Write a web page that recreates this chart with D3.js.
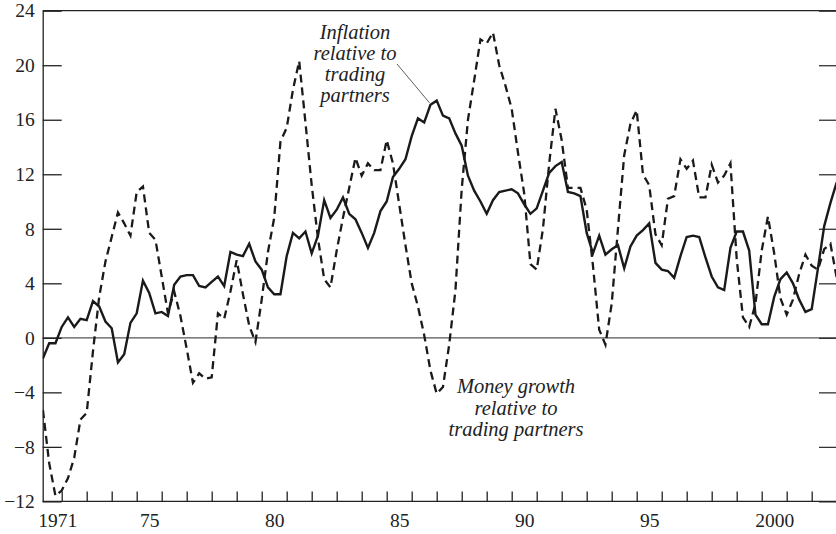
<!DOCTYPE html>
<html>
<head>
<meta charset="utf-8">
<script src="https://cdn.jsdelivr.net/npm/d3@7"></script>
<style>
  body { margin: 0; background: #fff; }
  svg text { font-family: "Liberation Serif", "DejaVu Serif", serif; fill: #222; }
  .note { font-style: italic; font-size: 20.5px; }
</style>
</head>
<body>
<svg id="chart" width="836" height="534"></svg>
<script>
"use strict";

// quarterly, 1971Q1 .. 2002Q4
var START_YEAR = 1971.25;
var inflation = [
  -1.5, -0.4, -0.4, 0.8, 1.5, 0.8, 1.4, 1.3, 2.7, 2.3, 1.2, 0.7, -1.8, -1.2, 1.1, 1.8,
  4.2, 3.3, 1.8, 1.9, 1.6, 3.9, 4.5, 4.6, 4.6, 3.8, 3.7, 4.1, 4.5, 3.8, 6.3, 6.1,
  6.0, 6.9, 5.6, 5.0, 3.7, 3.2, 3.2, 6.0, 7.7, 7.3, 7.8, 6.2, 7.5, 10.1, 8.8, 9.4,
  10.3, 9.1, 8.7, 7.7, 6.6, 7.7, 9.3, 10.0, 11.8, 12.4, 13.1, 14.8, 16.1, 15.8, 17.1, 17.4,
  16.3, 16.1, 15.0, 14.1, 11.9, 10.8, 10.0, 9.1, 10.1, 10.7, 10.8, 10.9, 10.6, 9.8, 9.1, 9.5,
  10.8, 12.1, 12.6, 12.9, 10.7, 10.6, 10.4, 7.7, 6.2, 7.5, 6.1, 6.5, 6.8, 5.1, 6.7, 7.5,
  7.9, 8.4, 5.5, 5.0, 4.9, 4.4, 6.0, 7.4, 7.5, 7.4, 5.9, 4.5, 3.7, 3.5, 6.6, 7.8,
  7.8, 6.4, 1.7, 1.0, 1.0, 3.0, 4.3, 4.8, 4.0, 2.8, 1.9, 2.1, 5.1, 8.2, 9.9, 11.4
];
var moneyGrowth = [
  -5.3, -9.2, -11.6, -11.2, -10.3, -8.8, -6.0, -5.5, -1.0, 3.0, 5.6, 7.4, 9.2, 8.4, 7.5, 10.7,
  11.1, 7.7, 7.2, 4.5, 1.8, 3.4, 1.6, -0.8, -3.3, -2.6, -3.0, -2.9, 1.8, 1.4, 3.4, 5.7,
  3.2, 0.9, -0.3, 2.8, 6.3, 8.8, 14.4, 15.4, 18.2, 20.3, 15.8, 11.2, 7.3, 4.3, 3.7, 6.4,
  8.8, 11.0, 13.2, 11.9, 12.8, 12.3, 12.3, 14.5, 12.8, 9.8, 6.8, 4.0, 2.3, 0.2, -2.4, -4.1,
  -3.6, -0.5, 3.5, 10.9, 16.0, 18.9, 21.9, 21.6, 22.4, 20.0, 18.5, 16.8, 13.6, 10.6, 5.4, 5.0,
  8.0, 12.8, 16.8, 14.5, 11.0, 11.0, 11.0, 9.4, 5.3, 0.6, -0.5, 2.5, 8.0, 13.4, 15.7, 16.7,
  12.0, 11.2, 7.6, 6.8, 10.2, 10.4, 13.1, 12.4, 13.0, 10.3, 10.3, 12.7, 11.4, 11.9, 12.8, 5.8,
  1.5, 0.8, 2.5, 6.4, 8.9, 6.2, 2.9, 1.7, 2.8, 4.7, 6.1, 5.3, 5.0, 6.5, 6.9, 4.4
];
var yTicks = [-12, -8, -4, 0, 4, 8, 12, 16, 20, 24];
var yearTicks = d3.range(1972, 2003);
var yearLabels = [1971, 1975, 1980, 1985, 1990, 1995, 2000];
var yearLabelText = ["1971", "75", "80", "85", "90", "95", "2000"];

const CHART = (function() {
  var _left = 42.7, _right = 836, _top = 10.7, _bottom = 501.4;
  var _svg = d3.select('#chart');

  var x = d3.scaleLinear().domain([1971, 2003]).range([36.7, 836.7]);
  var y = d3.scaleLinear().domain([-12, 24]).range([_bottom, _top]);

  function series(values) {
    return values.map(function(v, i) { return { t: START_YEAR + i * 0.25, v: v }; });
  }

  function drawFrame() {
    // zero line
    _svg.append('line')
      .attr('x1', _left).attr('x2', _right)
      .attr('y1', y(0)).attr('y2', y(0))
      .attr('stroke', '#555').attr('stroke-width', 1.2);

    // top border
    _svg.append('line')
      .attr('x1', _left).attr('x2', _right)
      .attr('y1', _top).attr('y2', _top)
      .attr('stroke', '#222').attr('stroke-width', 1.3);

    var left = _svg.append('g')
      .attr('transform', 'translate(' + _left + ',0)')
      .call(d3.axisLeft(y).tickValues(yTicks).tickSizeInner(-19).tickSizeOuter(0).tickPadding(8));
    left.select('.domain').attr('stroke', '#222').attr('stroke-width', 1.3);
    left.selectAll('.tick line').attr('stroke', '#222').attr('stroke-width', 1.3);
    left.selectAll('.tick text').style('font-size', '19.5px').attr('fill', '#222');

    var right = _svg.append('g')
      .attr('transform', 'translate(' + _right + ',0)')
      .call(d3.axisLeft(y).tickValues(yTicks).tickSize(17).tickFormat(''));
    right.select('.domain').remove();
    right.selectAll('.tick line').attr('stroke', '#333').attr('stroke-width', 1.3);

    var bottom = _svg.append('g')
      .attr('transform', 'translate(0,' + _bottom + ')')
      .call(d3.axisBottom(x).tickValues(yearTicks).tickSizeInner(-10).tickSizeOuter(0).tickFormat(''));
    bottom.select('.domain').attr('d', 'M' + _left + ',0H' + _right).attr('stroke', '#222').attr('stroke-width', 1.3);
    bottom.selectAll('.tick line').attr('stroke', '#222').attr('stroke-width', 1.3);

    var labels = _svg.append('g')
      .attr('transform', 'translate(0,' + _bottom + ')')
      .call(d3.axisBottom(x)
        .tickValues(yearLabels.map(function(d) { return d + 0.5; }))
        .tickSize(0).tickPadding(12)
        .tickFormat(function(d, i) { return yearLabelText[i]; }));
    labels.select('.domain').remove();
    labels.selectAll('.tick text').style('font-size', '19.5px').attr('fill', '#222');
    labels.select('.tick text').attr('dx', 8);
  }

  function drawLines() {
    _svg.append('clipPath').attr('id', 'plot-clip')
      .append('rect')
      .attr('x', _left).attr('y', 0)
      .attr('width', _right - _left).attr('height', 534);

    var line = d3.line()
      .x(function(d) { return x(d.t); })
      .y(function(d) { return y(d.v); });

    var g = _svg.append('g').attr('clip-path', 'url(#plot-clip)');
    g.append('path')
      .datum(series(moneyGrowth))
      .attr('d', line)
      .attr('fill', 'none')
      .attr('stroke', '#1a1a1a')
      .attr('stroke-width', 2.3)
      .attr('stroke-dasharray', '8,5');
    g.append('path')
      .datum(series(inflation))
      .attr('d', line)
      .attr('fill', 'none')
      .attr('stroke', '#1a1a1a')
      .attr('stroke-width', 2.4)
      .attr('stroke-linejoin', 'miter');
  }

  function drawNotes() {
    var infl = _svg.append('text').attr('class', 'note').attr('text-anchor', 'middle');
    ['Inflation', 'relative to', 'trading', 'partners'].forEach(function(s, i) {
      infl.append('tspan').attr('x', 355).attr('y', 39 + i * 21).text(s);
    });
    // leader to the inflation peak
    _svg.append('line')
      .attr('x1', 397).attr('y1', 64)
      .attr('x2', x(START_YEAR + 62 * 0.25) - 1).attr('y2', y(inflation[62]) - 2)
      .attr('stroke', '#333').attr('stroke-width', 0.8);

    var money = _svg.append('text').attr('class', 'note').attr('text-anchor', 'middle');
    ['Money growth', 'relative to', 'trading partners'].forEach(function(s, i) {
      money.append('tspan').attr('x', 516).attr('y', 393 + i * 21.5).text(s);
    });
  }

  return {
    render: function() {
      drawFrame();
      drawLines();
      drawNotes();
    }
  };
}());

CHART.render();
</script>
</body>
</html>
